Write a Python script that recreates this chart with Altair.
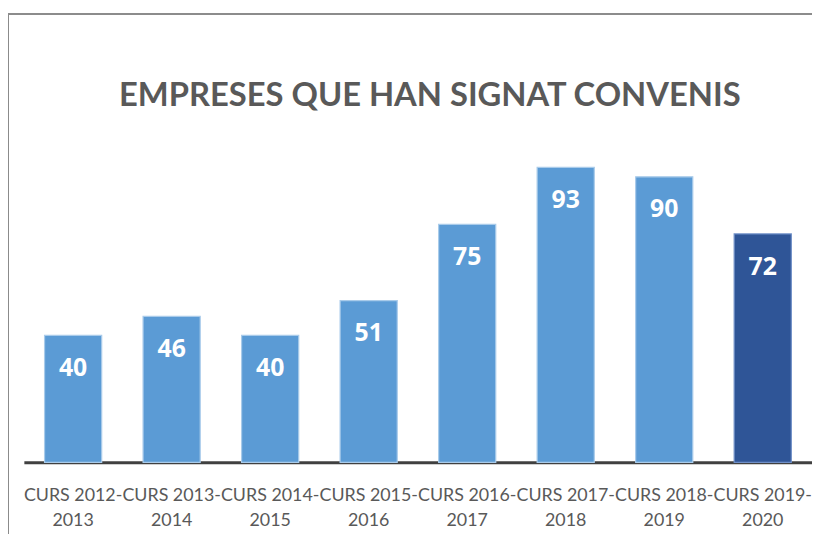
import altair as alt
import pandas as pd

courses = ["CURS 2012-2013", "CURS 2013-2014", "CURS 2014-2015", "CURS 2015-2016",
           "CURS 2016-2017", "CURS 2017-2018", "CURS 2018-2019", "CURS 2019-2020"]
companies = [40, 46, 40, 51, 75, 93, 90, 72]

df = pd.DataFrame({"curs": courses, "empreses": companies})

x = alt.X("curs:N", sort=courses, title=None,
          scale=alt.Scale(paddingInner=0.42, paddingOuter=0.21),
          axis=alt.Axis(labelAngle=0, ticks=False, domainColor="#404040", domainWidth=3,
                        labelColor="#595959", labelFont="Lato", labelFontSize=18,
                        labelLineHeight=26, labelPadding=24, labelLimit=0,
                        labelOverlap=False,
                        labelExpr="[slice(datum.label,0,10), slice(datum.label,10)]"))
y = alt.Y("empreses:Q", title=None, scale=alt.Scale(domain=[0, 100]), axis=None)

base = alt.Chart(df)

bars = base.mark_bar(strokeWidth=1.2).encode(
    x=x, y=y,
    color=alt.condition(alt.datum.curs == "CURS 2019-2020", alt.value("#2F5597"), alt.value("#5B9BD5")),
    stroke=alt.condition(alt.datum.curs == "CURS 2019-2020", alt.value("#6F8FC7"), alt.value("#A9CBEA")),
)

labels = base.mark_text(color="white", font="Open Sans", fontWeight="bold", fontSize=25,
                        baseline="middle", dy=33).encode(
    x=x, y=y, text="empreses:Q")

frame_top = base.mark_rule(color="#8C8C8C", strokeWidth=1.5).encode(
    x=alt.value(-16), x2=alt.value(800), y=alt.value(-132))
frame_left = base.mark_rule(color="#8C8C8C", strokeWidth=1.5).encode(
    x=alt.value(-16), y=alt.value(-132), y2=alt.value(400))

chart = alt.layer(frame_top, frame_left, bars, labels).properties(
    width=795, height=320,
    autosize=alt.AutoSizeParams(type="none"),
    padding={"left": 16, "top": 136, "right": 0, "bottom": 70},
    title=alt.TitleParams("EMPRESES QUE HAN SIGNAT CONVENIS", font="Lato", fontSize=33,
                          fontWeight="bold", color="#595959", anchor="middle",
                          offset=-100, dx=12),
).configure_view(stroke=None)

chart.save("out.html", embed_options={"renderer": "svg", "actions": False})
